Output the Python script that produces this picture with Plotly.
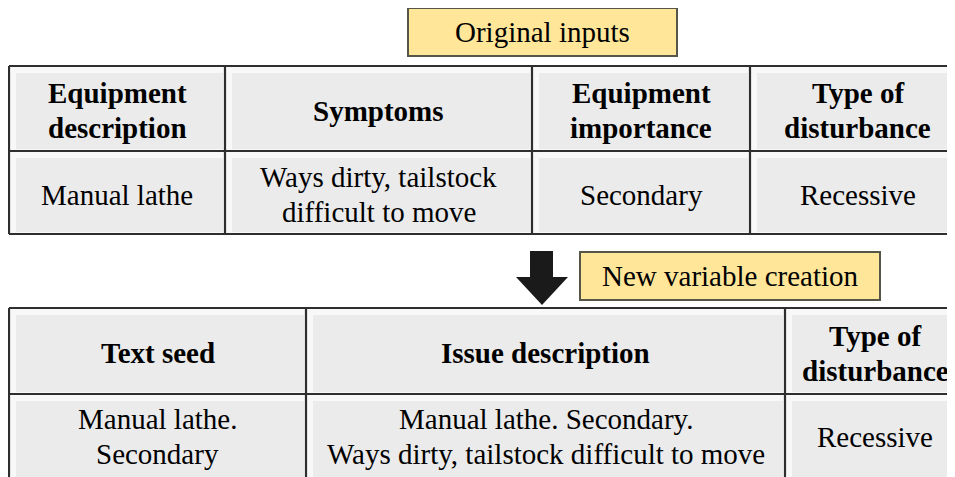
import plotly.graph_objects as go

# ---- data (text content) ----
top_headers = ["Equipment<br>description", "Symptoms", "Equipment<br>importance", "Type of<br>disturbance"]
top_values = ["Manual lathe", "Ways dirty, tailstock<br>difficult to move", "Secondary", "Recessive"]
bottom_headers = ["Text seed", "Issue description", "Type of<br>disturbance"]
bottom_values = ["Manual lathe.<br>Secondary", "Manual lathe. Secondary.<br>Ways dirty, tailstock difficult to move", "Recessive"]
label_top = "Original inputs"
label_bottom = "New variable creation"

# ---- layout geometry (pixels) ----
W, H = 955, 477
OFF = 8  # page body margin
top_cols = [9, 225, 532, 750, 965]
top_rows = [66, 151, 234]
bot_cols = [9, 306, 785, 965]
bot_rows = [308, 394, 482]

FONT = "Liberation Serif"
FS = 29
LINE = 35
GRID = "#2e2e2e"

shapes = []
annotations = []


def add_text(x, yc, txt, bold=False):
    lines = txt.split("<br>")
    n = len(lines)
    for i, ln in enumerate(lines):
        y = yc + (i - (n - 1) / 2) * LINE
        annotations.append(dict(x=x, y=y, text=("<b>" + ln + "</b>") if bold else ln,
                                showarrow=False, xanchor="center", yanchor="middle",
                                font=dict(family=FONT, size=FS, color="black")))


def add_table(cols, rows, headers, values):
    for r in range(len(rows) - 1):
        for c in range(len(cols) - 1):
            x0, x1 = cols[c], cols[c + 1]
            y0, y1 = rows[r], rows[r + 1]
            shapes.append(dict(type="rect", x0=x0, x1=x1, y0=y0, y1=y1,
                               fillcolor="#f8f8f8", line=dict(width=0), layer="below"))
            shapes.append(dict(type="rect", x0=x0 + 7, x1=x1 - 2, y0=y0 + 7, y1=y1 - 2,
                               fillcolor="#ebebeb", line=dict(width=0), layer="below"))
    for x in cols:
        shapes.append(dict(type="line", x0=x, x1=x, y0=rows[0], y1=rows[-1],
                           line=dict(color=GRID, width=2.2)))
    for y in rows:
        shapes.append(dict(type="line", x0=cols[0], x1=cols[-1], y0=y, y1=y,
                           line=dict(color=GRID, width=2.2)))
    for c, txt in enumerate(headers):
        add_text((cols[c] + cols[c + 1]) / 2, (rows[0] + rows[1]) / 2 + 2, txt, bold=True)
    for c, txt in enumerate(values):
        yc = (rows[1] + rows[2]) / 2 + 2
        if rows[2] > H:
            yc = (rows[1] + H) / 2 + 1
        add_text((cols[c] + cols[c + 1]) / 2, yc, txt)


add_table(top_cols, top_rows, top_headers, top_values)
add_table(bot_cols, bot_rows, bottom_headers, bottom_values)


def add_label(x0, x1, y0, y1, txt):
    shapes.append(dict(type="rect", x0=x0, x1=x1, y0=y0, y1=y1,
                       fillcolor="#ffe699", line=dict(color="#555548", width=2)))
    add_text((x0 + x1) / 2, (y0 + y1) / 2, txt)


add_label(408, 677, 8, 56, label_top)
add_label(580, 880, 252, 300, label_bottom)

shapes.append(dict(type="path",
                   path="M 530 251 L 553 251 L 553 277 L 568 277 L 542 305 L 516 277 L 530 277 Z",
                   fillcolor="#1a1a1a", line=dict(width=0)))

fig = go.Figure()
fig.update_layout(
    width=W - OFF, height=H - OFF,
    margin=dict(l=0, r=0, t=0, b=0),
    font=dict(family=FONT, size=FS, color="black"),
    paper_bgcolor="white", plot_bgcolor="white",
    xaxis=dict(range=[OFF, W], visible=False, fixedrange=True),
    yaxis=dict(range=[H, OFF], visible=False, fixedrange=True),
    shapes=shapes, annotations=annotations,
    showlegend=False,
)
fig.write_html("out.html")
